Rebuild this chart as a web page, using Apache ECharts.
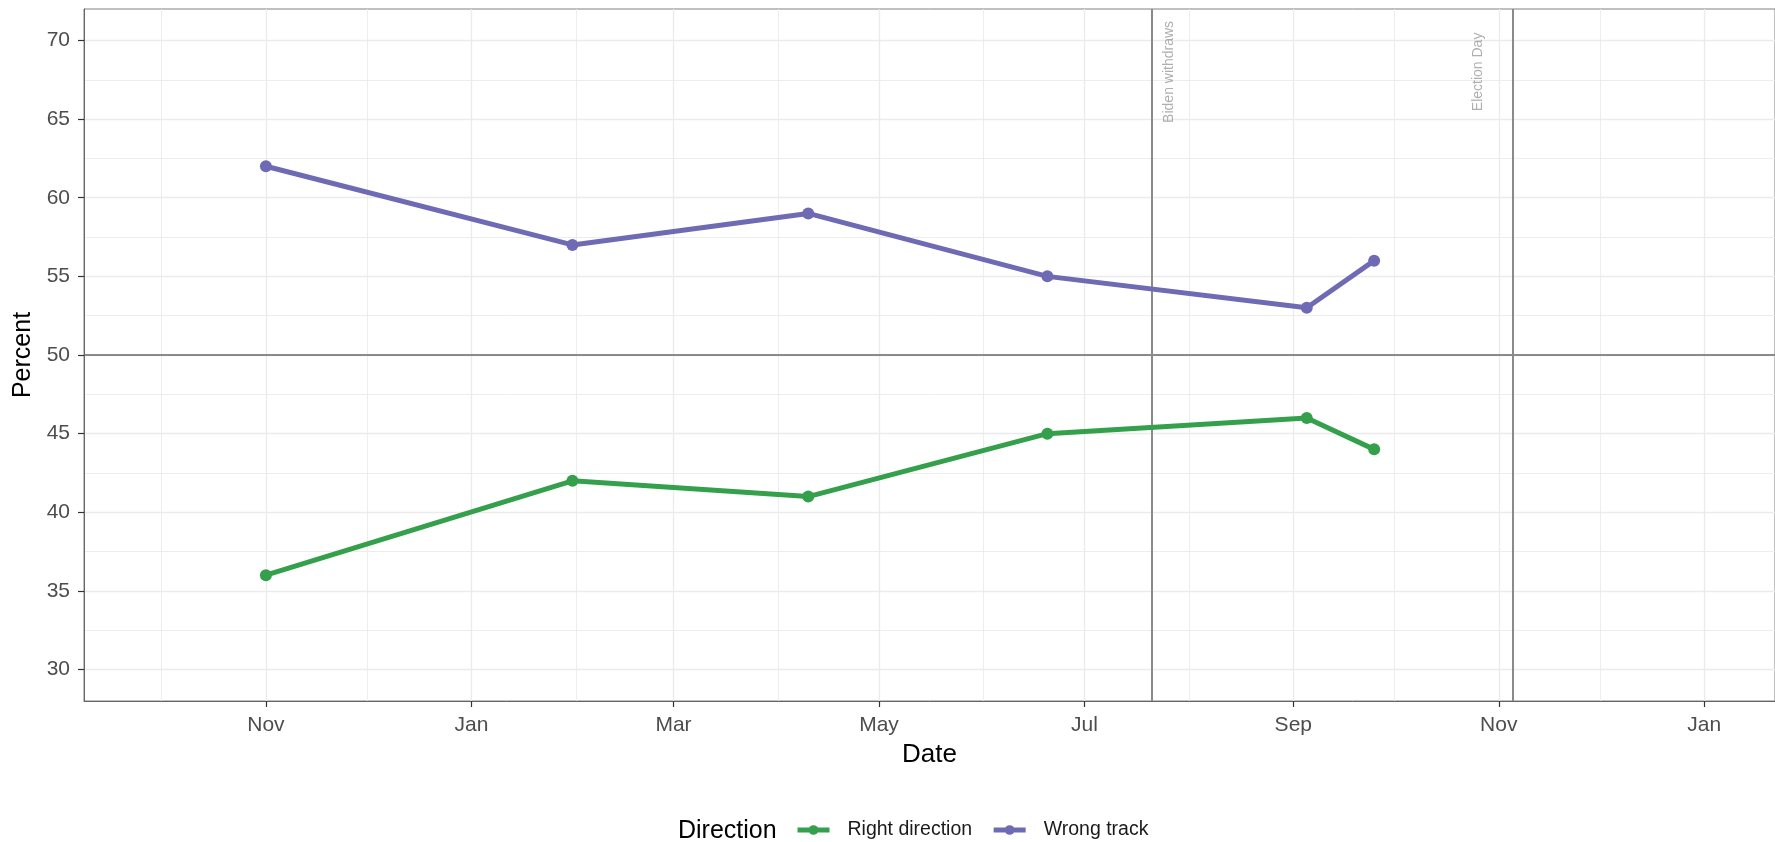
<!DOCTYPE html>
<html>
<head>
<meta charset="utf-8">
<script src="https://cdn.jsdelivr.net/npm/echarts@6/dist/echarts.min.js"></script>
<style>
html,body{margin:0;padding:0;background:#fff;}
#chart{width:1775px;height:842px;}
</style>
</head>
<body>
<div id="chart"></div>
<script>
// ---- data ----
var pollDates = ['2023-11-01','2024-01-31','2024-04-10','2024-06-20','2024-09-05','2024-09-25'];
var rightDirection = [36, 42, 41, 45, 46, 44];
var wrongTrack = [62, 57, 59, 55, 53, 56];
var seriesNames = ['Right direction', 'Wrong track'];
var majorDates = ['2023-11-01','2024-01-01','2024-03-01','2024-05-01','2024-07-01','2024-09-01','2024-11-01','2025-01-01'];
var minorDates = ['2023-10-01','2023-12-01','2024-02-01','2024-04-01','2024-06-01','2024-08-01','2024-10-01','2024-12-01'];
var monthLabels = ['Jan','Feb','Mar','Apr','May','Jun','Jul','Aug','Sep','Oct','Nov','Dec'];
var yMajor = [30,35,40,45,50,55,60,65,70];
var yMinor = [32.5,37.5,42.5,47.5,52.5,57.5,62.5,67.5];
var events = [
  {date:'2024-07-21', label:'Biden withdraws', labelDate:'2024-07-26', labelY:68},
  {date:'2024-11-05', label:'Election Day', labelDate:'2024-10-26', labelY:68}
];
var refY = 50;
var xMin = '2023-09-08', xMax = '2025-01-22';
var yMin = 28, yMax = 72;

function ts(d){ var p = d.split('-'); return new Date(+p[0], +p[1]-1, +p[2]).getTime(); }

var font = 'Liberation Sans, Arial, Helvetica, sans-serif';
var gridColor = '#ebebeb';
var green = '#35a04b', purple = '#6f6ab4';

var chart = echarts.init(document.getElementById('chart'));

var gridLines = [];
majorDates.forEach(function(d){ gridLines.push({xAxis: ts(d), lineStyle:{color:gridColor, width:1.3, type:'solid'}}); });
minorDates.forEach(function(d){ gridLines.push({xAxis: ts(d), lineStyle:{color:gridColor, width:0.9, type:'solid'}}); });
yMajor.forEach(function(v){ gridLines.push({yAxis: v, lineStyle:{color:gridColor, width:1.3, type:'solid'}}); });
yMinor.forEach(function(v){ gridLines.push({yAxis: v, lineStyle:{color:gridColor, width:0.9, type:'solid'}}); });

var refLines = [{yAxis: refY}];
events.forEach(function(e){ refLines.push({xAxis: ts(e.date)}); });

var option = {
  animation: false,
  textStyle: {fontFamily: font},
  grid: {left: 84, right: 0, top: 9, bottom: 141, show: true, borderColor: '#808080', borderWidth: 1},
  xAxis: {
    type: 'value', min: ts(xMin), max: ts(xMax), scale: true, z: 4,
    name: 'Date', nameLocation: 'middle', nameGap: 41,
    nameTextStyle: {fontSize: 26, color: '#000', fontFamily: font},
    axisLine: {show: true, lineStyle: {color: '#666', width: 1}},
    axisTick: {show: true, length: 6, lineStyle: {color: '#333', width: 1.2}, customValues: majorDates.map(ts)},
    axisLabel: {fontSize: 21, color: '#4d4d4d', margin: 14, customValues: majorDates.map(ts),
      formatter: function(v){ return monthLabels[new Date(v).getMonth()]; }},
    splitLine: {show: false}
  },
  yAxis: {
    type: 'value', min: yMin, max: yMax, z: 4,
    name: 'Percent', nameLocation: 'middle', nameGap: 42, nameRotate: 90,
    nameTextStyle: {fontSize: 25, color: '#000', fontFamily: font},
    axisLine: {show: true, lineStyle: {color: '#666', width: 1}},
    axisTick: {show: true, length: 6, lineStyle: {color: '#333', width: 1.2}, customValues: yMajor},
    axisLabel: {fontSize: 21, color: '#4d4d4d', margin: 14, customValues: yMajor},
    splitLine: {show: false}
  },
  legend: {
    data: seriesNames, top: 820, left: 795, padding: 0,
    itemWidth: 32, itemHeight: 12, itemGap: 19,
    lineStyle: {width: 5},
    textStyle: {fontSize: 19.5, color: '#1a1a1a', fontFamily: font, padding: [0, 0, 0, 13]}
  },
  graphic: [{type: 'text', left: 678, top: 819, style: {text: 'Direction', fontSize: 25, fill: '#000', fontFamily: font}}],
  series: [
    {
      type: 'line', name: '_grid', data: [], z: 0, silent: true,
      markLine: {z: 0, silent: true, symbol: 'none', label: {show: false}, animation: false, data: gridLines}
    },
    {
      type: 'line', name: '_ref', data: [], z: 1, silent: true,
      markLine: {z: 1, silent: true, symbol: 'none', label: {show: false}, animation: false,
        lineStyle: {color: '#8a8a8a', width: 2, type: 'solid'}, data: refLines}
    },
    {
      type: 'scatter', name: '_labels', z: 1, silent: true, symbolSize: 0,
      data: events.map(function(e){ return {value: [ts(e.labelDate), e.labelY], label: {formatter: e.label}}; }),
      label: {show: true, position: 'inside', rotate: 90, fontSize: 14, color: '#9a9a9a', fontFamily: font}
    },
    {
      type: 'line', name: seriesNames[0], z: 3,
      data: pollDates.map(function(d, i){ return [ts(d), rightDirection[i]]; }),
      color: green, lineStyle: {width: 5, color: green},
      symbol: 'circle', symbolSize: 12, itemStyle: {color: green}
    },
    {
      type: 'line', name: seriesNames[1], z: 3,
      data: pollDates.map(function(d, i){ return [ts(d), wrongTrack[i]]; }),
      color: purple, lineStyle: {width: 5, color: purple},
      symbol: 'circle', symbolSize: 12, itemStyle: {color: purple}
    }
  ]
};
chart.setOption(option);
</script>
</body>
</html>
